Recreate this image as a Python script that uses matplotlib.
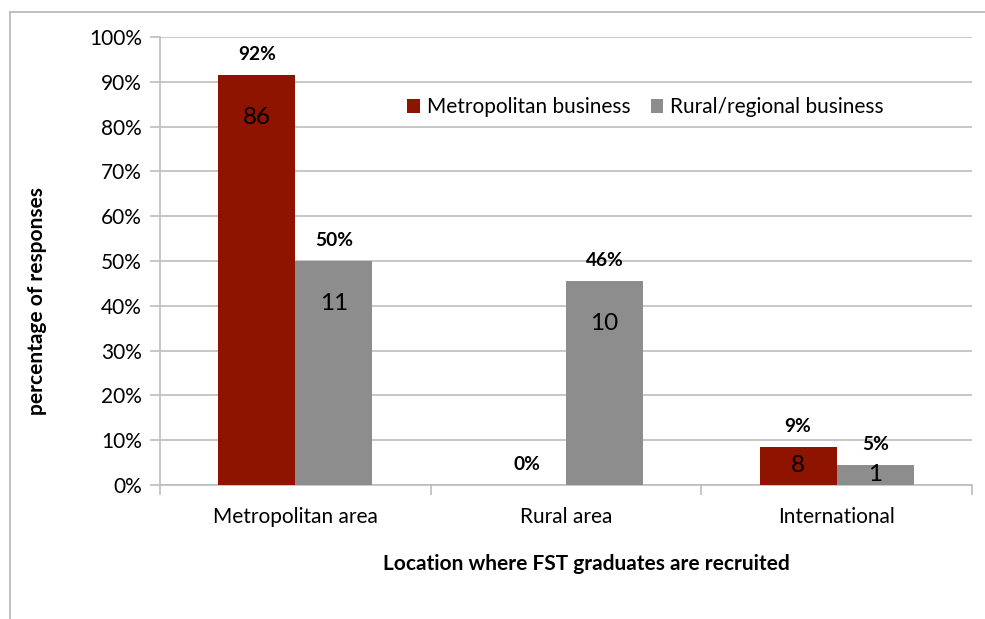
import matplotlib
matplotlib.use("Agg")
import matplotlib.pyplot as plt
from matplotlib.lines import Line2D
import numpy as np

categories = ["Metropolitan area", "Rural area", "International"]
series_names = ["Metropolitan business", "Rural/regional business"]
metro_pct = [91.5, 0.0, 8.5]
rural_pct = [50.0, 45.5, 4.5]
metro_labels = ["92%", "0%", "9%"]
rural_labels = ["50%", "46%", "5%"]
metro_counts = ["86", "", "8"]
rural_counts = ["11", "10", "1"]
yticks = [0, 10, 20, 30, 40, 50, 60, 70, 80, 90, 100]

plt.rcParams['font.family'] = ['Lato', 'DejaVu Sans']
RED = "#8E1400"
GREY = "#8D8D8D"
GRID = "#BDBDBD"
FS = 15

fig = plt.figure(figsize=(9.85, 6.19), dpi=100)
ax = fig.add_axes([160/985, 1-485/619, (972-160)/985, (485-37)/619])

x = np.arange(len(categories))
w = 0.285
b1 = ax.bar(x - w/2, metro_pct, w, color=RED, zorder=3, label=series_names[0])
b2 = ax.bar(x + w/2, rural_pct, w, color=GREY, zorder=3, label=series_names[1])

for xs, vals, labs, cnts in [(x - w/2, metro_pct, metro_labels, metro_counts),
                             (x + w/2, rural_pct, rural_labels, rural_counts)]:
    for xi, v, lab, c in zip(xs, vals, labs, cnts):
        ax.annotate(lab, (xi, v), xytext=(0, 15), textcoords="offset points",
                    ha="center", va="center", fontsize=13.8, fontweight="bold", color="black")
        if c:
            yc = max(v / 2, v - 9.5)
            ax.text(xi, yc, c, ha="center", va="center", fontsize=17.5, color="black", zorder=4)

ax.set_ylim(0, 100)
ax.set_xlim(-0.5, 2.5)
ax.set_yticks(yticks)
ax.set_yticklabels([f"{t}%" for t in yticks], fontsize=FS)
ax.yaxis.grid(True, color=GRID, linewidth=1.2, zorder=0)
ax.set_axisbelow(True)

ax.set_xticks(x)
ax.set_xticklabels(categories, fontsize=FS)
ax.tick_params(axis="x", which="major", length=0, pad=16)
ax.set_xticks([-0.5, 0.5, 1.5, 2.5], minor=True)
ax.tick_params(axis="x", which="minor", length=7, color=GRID, width=1.2)
ax.tick_params(axis="y", length=7, color=GRID, width=1.2, pad=6)

for s in ["top", "right"]:
    ax.spines[s].set_visible(False)
ax.spines["left"].set_color(GRID)
ax.spines["bottom"].set_color(GRID)
ax.spines["left"].set_linewidth(1.2)
ax.spines["bottom"].set_linewidth(1.2)

ax.set_ylabel("percentage of responses", fontsize=FS, fontweight="bold")
ax.yaxis.set_label_coords((47-160)/812, (485-301)/448)
fig.text(586/985, 1-564/619, "Location where FST graduates are recruited",
         ha="center", va="center", fontsize=FS, fontweight="bold")

leg = ax.legend(loc="upper left", bbox_to_anchor=((399-160)/(972-160), 1-(89-37)/448),
                ncol=2, frameon=False, fontsize=FS, handlelength=0.6, handleheight=0.6,
                columnspacing=0.95, handletextpad=0.35, borderaxespad=0)

fig.add_artist(Line2D([10/985, 10/985], [0, 1-12/619], color="#BBBBBB", linewidth=1.3))
fig.add_artist(Line2D([10/985, 1], [1-12/619, 1-12/619], color="#BBBBBB", linewidth=1.3))

fig.savefig("out.png", dpi=100)
